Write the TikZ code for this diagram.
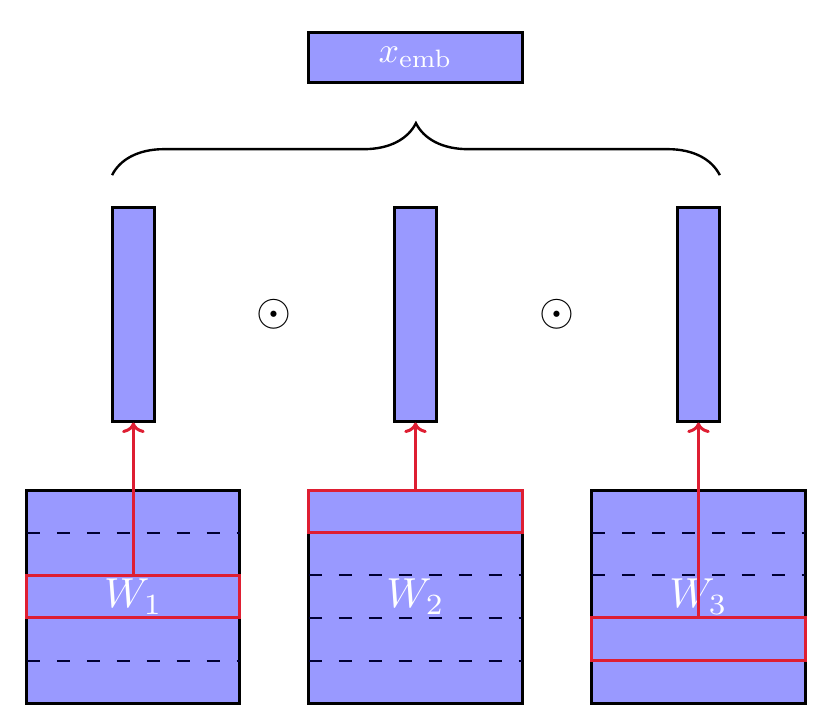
\documentclass[tikz,border=0pt]{standalone}
\usetikzlibrary{decorations.pathreplacing,arrows.meta}
\definecolor{pickred}{RGB}{222,30,50}
\tikzset{
    blk/.style={draw=black, fill=blue!40, line width=2pt, inner sep=0pt},
    vec/.style={blk, minimum width=1cm, minimum height=5cm},
    mat/.style={blk, minimum width=5cm, minimum height=5cm},
    sel/.style={draw=pickred, line width=2pt, minimum width=5cm, minimum height=1cm, inner sep=0pt},
    lbl/.style={text=white, scale=2.8},
    pick/.style={pickred, line width=2pt, -{To[length=7pt,width=15pt]}},
}
\begin{document}
\begin{tikzpicture}
    \useasboundingbox (-0.63,-0.35) rectangle (18.94,16.5);
    % weight matrices, one row picked in each
    \foreach \i/\x/\r in {1/2.5/2.5, 2/9.12/4.5, 3/15.76/1.5}{
        \node[mat] (W\i) at (\x,2.5) {};
        \foreach \y in {1,2,3,4}{
            \draw[black!80!blue, line width=1.3pt, dash pattern=on 9pt off 11pt] (\x-2.5,\y)--(\x+2.5,\y);
        }
        \node[lbl] (L\i) at (\x,2.5) {$W_\i$};
        \node[sel] (R\i) at (\x,\r) {};
        \node[vec] (V\i) at (\x,9.12) {};
        \draw[pick] (R\i.north) -- (V\i.south);
    }
    \node[scale=3] (dot1) at (5.81,9.12) {$\odot$};
    \node[scale=3] (dot2) at (12.44,9.12) {$\odot$};
    \coordinate (bl) at (2,12.39);
    \coordinate (br) at (16.26,12.39);
    \draw[decorate, decoration={brace, amplitude=1.22cm}, line width=1.6pt] (bl) -- (br);
    \node[blk, minimum width=5cm, minimum height=1.17cm] (emb) at (9.12,15.16) {};
    \node[text=white, scale=2.4] (embtxt) at (emb) {$x_{\mathrm{emb}}$};
\end{tikzpicture}
\end{document}
